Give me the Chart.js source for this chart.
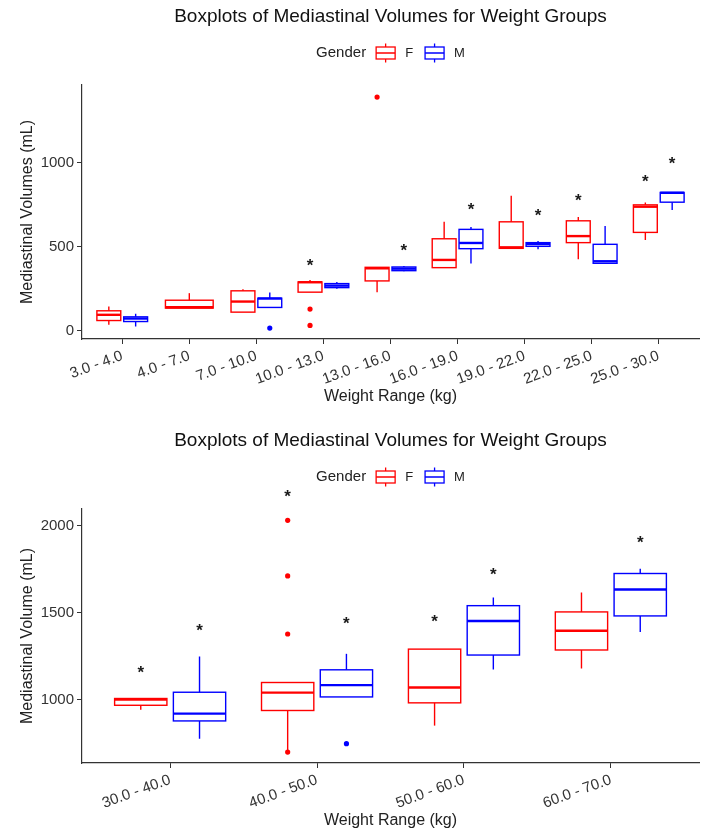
<!DOCTYPE html>
<html>
<head>
<meta charset="utf-8">
<script src="https://cdn.jsdelivr.net/npm/chart.js@4.4.1/dist/chart.umd.min.js"></script>
<style>
  body { margin: 0; background: #fff; }
  .panel { position: absolute; left: 0; width: 711px; height: 407px; }
</style>
</head>
<body>
<div class="panel" style="top:0"><canvas id="topChart"></canvas></div>
<div class="panel" style="top:424px"><canvas id="bottomChart"></canvas></div>
<script>
// Boxplots of mediastinal volume by weight group, F (red) vs M (blue)
// stats per box: [lower whisker, q1, median, q3, upper whisker]; null = no box

// ---- top panel ----
const TOP_CATS = ['3.0 - 4.0', '4.0 - 7.0', '7.0 - 10.0', '10.0 - 13.0', '13.0 - 16.0',
                  '16.0 - 19.0', '19.0 - 22.0', '22.0 - 25.0', '25.0 - 30.0'];
const TOP_F = [
  [36, 61, 95, 119, 145],
  [135, 135, 140, 182, 224],
  [111, 111, 174, 238, 248],
  [230, 230, 289, 291, 303],
  [230, 297, 372, 378, 378],
  [376, 376, 422, 548, 649],
  [491, 491, 497, 649, 804],
  [426, 525, 564, 655, 677],
  [541, 586, 739, 750, 764]
];
const TOP_M = [
  [26, 55, 73, 83, 101],
  null,
  [139, 139, 192, 194, 228],
  [251, 257, 269, 281, 291],
  [354, 358, 370, 380, 386],
  [400, 489, 523, 604, 618],
  [485, 503, 517, 525, 535],
  [402, 402, 414, 515, 624],
  [719, 766, 822, 824, 824]
];
const TOP_OUT_F = [[3, 129], [3, 32], [4, 1392]];   // [group, value]
const TOP_OUT_M = [[2, 16]];
const TOP_STAR_GROUP = [3, 4, 5, 6, 7, 8, 8];
const TOP_STAR_SIDE = ['F', 'M', 'M', 'M', 'F', 'F', 'M'];
const TOP_STAR_Y = [418, 507, 748, 713, 802, 917, 1022];
const TOP_Y_TICKS = [0, 500, 1000];

// ---- bottom panel ----
const BOT_CATS = ['30.0 - 40.0', '40.0 - 50.0', '50.0 - 60.0', '60.0 - 70.0'];
const BOT_F = [
  [942, 967, 1000, 1006, 1006],
  [700, 937, 1040, 1098, 1098],
  [850, 981, 1069, 1290, 1290],
  [1179, 1285, 1396, 1504, 1615]
];
const BOT_M = [
  [775, 877, 919, 1042, 1248],
  [1015, 1015, 1083, 1171, 1263],
  [1173, 1256, 1452, 1540, 1587],
  [1388, 1481, 1633, 1725, 1752]
];
const BOT_OUT_F = [[1, 2031], [1, 1711], [1, 1377], [1, 698]];
const BOT_OUT_M = [[1, 746]];
const BOT_STAR_GROUP = [0, 0, 1, 1, 2, 2, 3];
const BOT_STAR_SIDE = ['F', 'M', 'F', 'M', 'F', 'M', 'M'];
const BOT_STAR_Y = [1179, 1423, 2196, 1461, 1473, 1748, 1929];
const BOT_Y_TICKS = [1000, 1500, 2000];

const RED = '#ff0000', BLUE = '#0000ff';
const FONT = "'Liberation Sans', Arial, sans-serif";
const DODGE = 0.2, HALF_W = 0.178;
const TITLE = 'Boxplots of Mediastinal Volumes for Weight Groups';

// dodge position of a box within its group
function place(i, side, f, m) {
  if (!(f[i] && m[i])) return { x: i, hw: HALF_W * 2 };
  return { x: i + (side === 'F' ? -DODGE : DODGE), hw: HALF_W };
}

function legendIcon(ctx, x, y, color) {
  ctx.strokeStyle = color; ctx.lineWidth = 1.3;
  ctx.strokeRect(x, y - 6, 19, 12);
  ctx.beginPath();
  ctx.moveTo(x, y); ctx.lineTo(x + 19, y);
  ctx.moveTo(x + 9.5, y - 9.5); ctx.lineTo(x + 9.5, y - 6);
  ctx.moveTo(x + 9.5, y + 6); ctx.lineTo(x + 9.5, y + 9.5);
  ctx.stroke();
}

const boxPlugin = {
  id: 'boxes',
  beforeDatasetsDraw(chart) {
    const p = chart.options.plugins.boxes;
    const xs = chart.scales.x, ys = chart.scales.y, ctx = chart.ctx;
    ctx.save();
    [['F', p.f, RED], ['M', p.m, BLUE]].forEach(([side, stats, color]) => {
      stats.forEach((s, i) => {
        if (!s) return;
        const pos = place(i, side, p.f, p.m);
        const x0 = xs.getPixelForValue(pos.x - pos.hw);
        const x1 = xs.getPixelForValue(pos.x + pos.hw);
        const xc = xs.getPixelForValue(pos.x);
        const [lo, q1, md, q3, hi] = s.map(v => ys.getPixelForValue(v));
        ctx.strokeStyle = color;
        ctx.lineWidth = 1.4;
        ctx.beginPath();
        if (hi < q3) { ctx.moveTo(xc, q3); ctx.lineTo(xc, hi); }
        if (lo > q1) { ctx.moveTo(xc, q1); ctx.lineTo(xc, lo); }
        ctx.stroke();
        ctx.strokeRect(x0, q3, x1 - x0, q1 - q3);
        ctx.lineWidth = 2.4;
        ctx.beginPath(); ctx.moveTo(x0, md); ctx.lineTo(x1, md); ctx.stroke();
      });
    });
    ctx.restore();
  },
  afterDraw(chart) {
    const p = chart.options.plugins.boxes;
    const xs = chart.scales.x, ys = chart.scales.y, ctx = chart.ctx;
    const area = chart.chartArea;
    const cx = (area.left + area.right) / 2;
    ctx.save();
    // significance stars
    ctx.fillStyle = '#1a1a1a';
    ctx.font = 'bold 17px ' + FONT;
    ctx.textAlign = 'center';
    ctx.textBaseline = 'alphabetic';
    p.starGroup.forEach((g, k) => {
      const pos = place(g, p.starSide[k], p.f, p.m);
      ctx.fillText('*', xs.getPixelForValue(pos.x), ys.getPixelForValue(p.starY[k]) + 10);
    });
    // title
    ctx.fillStyle = '#111';
    ctx.font = '19px ' + FONT;
    ctx.textBaseline = 'middle';
    ctx.fillText(TITLE, cx, 17);
    // legend
    ctx.font = '15px ' + FONT;
    const wG = ctx.measureText('Gender').width;
    ctx.font = '13px ' + FONT;
    const wF = ctx.measureText('F').width, wM = ctx.measureText('M').width;
    const total = wG + 10 + 19 + 10 + wF + 12 + 19 + 10 + wM;
    let x = cx - total / 2;
    const y = 53;
    ctx.textAlign = 'left';
    ctx.fillStyle = '#222';
    ctx.font = '15px ' + FONT;
    ctx.fillText('Gender', x, y);
    x += wG + 10;
    legendIcon(ctx, x, y, RED);
    x += 29;
    ctx.font = '13px ' + FONT;
    ctx.fillText('F', x, y);
    x += wF + 12;
    legendIcon(ctx, x, y, BLUE);
    x += 29;
    ctx.fillText('M', x, y);
    ctx.restore();
  }
};

function outlierPoints(list, side, f, m) {
  return list.map(([g, v]) => ({ x: place(g, side, f, m).x, y: v }));
}

function makePanel(id, cats, f, m, outF, outM, starGroup, starSide, starY, yMin, yMax, yTicks, yTitle) {
  const axisColor = '#333';
  new Chart(document.getElementById(id), {
    type: 'scatter',
    data: {
      datasets: [
        { label: 'F', data: outlierPoints(outF, 'F', f, m), backgroundColor: RED, borderWidth: 0, pointRadius: 2.6 },
        { label: 'M', data: outlierPoints(outM, 'M', f, m), backgroundColor: BLUE, borderWidth: 0, pointRadius: 2.6 }
      ]
    },
    options: {
      responsive: true, maintainAspectRatio: false, animation: false,
      layout: { padding: { left: 18, right: 12, top: 85, bottom: 1 } },
      plugins: {
        legend: { display: false },
        tooltip: { enabled: false },
        boxes: { f, m, starGroup, starSide, starY }
      },
      scales: {
        x: {
          type: 'linear', min: -0.6, max: cats.length - 0.4,
          afterBuildTicks: s => { s.ticks = cats.map((_, i) => ({ value: i })); },
          afterFit: s => { s.height = 67; },
          ticks: {
            autoSkip: false, minRotation: 20, maxRotation: 20, padding: 3,
            color: '#333', font: { family: FONT, size: 15 },
            callback: v => cats[v]
          },
          grid: { drawOnChartArea: false, drawTicks: true, tickLength: 5, color: axisColor },
          border: { display: true, color: axisColor, width: 1.2 },
          title: { display: true, text: 'Weight Range (kg)', color: '#222', padding: 0, font: { family: FONT, size: 16 } }
        },
        y: {
          min: yMin, max: yMax,
          afterBuildTicks: s => { s.ticks = yTicks.map(v => ({ value: v })); },
          afterFit: s => { s.width = 64; },
          ticks: { color: '#333', padding: 3, font: { family: FONT, size: 15 }, callback: v => String(v) },
          grid: { drawOnChartArea: false, drawTicks: true, tickLength: 5, color: axisColor },
          border: { display: true, color: axisColor, width: 1.2 },
          title: { display: true, text: yTitle, color: '#222', padding: 0, font: { family: FONT, size: 16 } }
        }
      }
    },
    plugins: [boxPlugin]
  });
}

makePanel('topChart', TOP_CATS, TOP_F, TOP_M, TOP_OUT_F, TOP_OUT_M,
  TOP_STAR_GROUP, TOP_STAR_SIDE, TOP_STAR_Y, -49, 1464, TOP_Y_TICKS, 'Mediastinal Volumes (mL)');
makePanel('bottomChart', BOT_CATS, BOT_F, BOT_M, BOT_OUT_F, BOT_OUT_M,
  BOT_STAR_GROUP, BOT_STAR_SIDE, BOT_STAR_Y, 635, 2096, BOT_Y_TICKS, 'Mediastinal Volume (mL)');
</script>
</body>
</html>
